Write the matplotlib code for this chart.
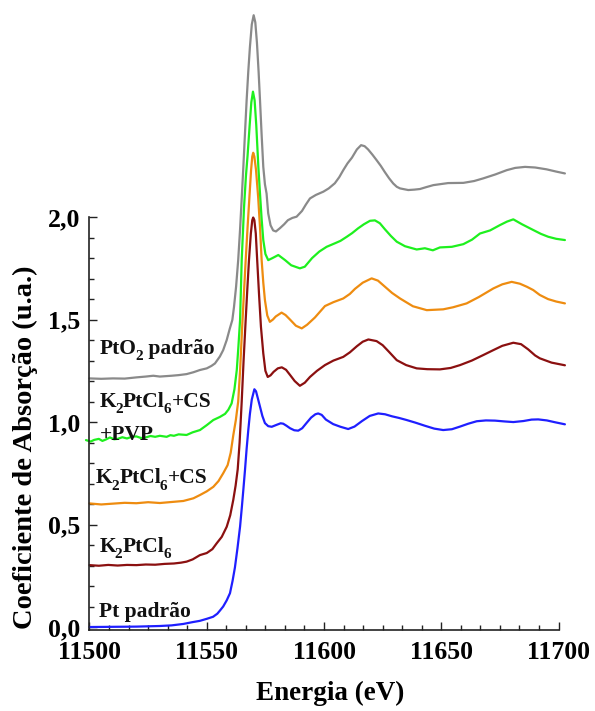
import matplotlib
matplotlib.use("Agg")
import matplotlib.pyplot as plt
from matplotlib.ticker import FixedLocator
from matplotlib.transforms import ScaledTranslation

plt.rcParams["font.family"] = ["Liberation Serif", "DejaVu Serif"]
plt.rcParams["font.weight"] = "bold"

# --- Pt L3-edge XANES spectra (vertically offset) ---
pt_E = [11500, 11510, 11520, 11530, 11535, 11540, 11544, 11547, 11550, 11552.7,
        11554.5, 11555.6, 11557.0, 11558.5, 11559.9, 11561.0, 11562.0, 11563.1,
        11564.2, 11565.0, 11565.6, 11566.3, 11567.0, 11567.7, 11568.4, 11569.2,
        11570.3, 11571.0, 11571.8, 11572.7, 11573.7, 11574.8, 11576.2, 11577.7,
        11579.9, 11581.5, 11582.6, 11584.0, 11585.5, 11587.3, 11589.0, 11590.7,
        11592.5, 11594.5, 11596.3, 11597.5, 11599.0, 11600.8, 11603.9, 11607.0,
        11610.3, 11613.0, 11616.2, 11619.5, 11623.1, 11626.0, 11629.0, 11632.0,
        11635.2, 11639.0, 11643.0, 11647.0, 11650.8, 11654.5, 11658.0, 11661.5,
        11665.1, 11669.0, 11672.9, 11677.0, 11680.7, 11685.0, 11688.5, 11691.3,
        11695.0, 11698.5, 11702.7]
pt_mu = [0.000, 0.001, 0.002, 0.005, 0.008, 0.015, 0.024, 0.030, 0.040, 0.050,
         0.065, 0.080, 0.100, 0.130, 0.165, 0.225, 0.290, 0.385,
         0.490, 0.590, 0.670, 0.766, 0.870, 0.960, 1.040, 1.110,
         1.160, 1.150, 1.115, 1.075, 1.030, 0.995, 0.980, 0.977,
         0.987, 0.994, 0.992, 0.982, 0.970, 0.960, 0.958, 0.970,
         0.995, 1.022, 1.038, 1.042, 1.035, 1.012, 0.990, 0.977,
         0.966, 0.978, 1.005, 1.030, 1.042, 1.038, 1.028, 1.020,
         1.010, 0.997, 0.982, 0.968, 0.961, 0.965, 0.978, 0.992,
         1.004, 1.008, 1.007, 1.003, 1.000, 1.005, 1.012, 1.013,
         1.008, 0.999, 0.989]

k2_E = [11500, 11504, 11508, 11512, 11516, 11520, 11524, 11528, 11532, 11536,
        11539, 11541.4, 11544, 11547.1, 11550, 11552.4, 11554.2, 11556.4, 11558.5,
        11560.0, 11561.3, 11562.3, 11563.2, 11564.0, 11564.9, 11565.7, 11566.6,
        11567.3, 11568.0, 11568.8, 11569.4, 11569.8, 11570.3, 11570.9, 11571.5,
        11572.3, 11573.1, 11574.1, 11575.0, 11576.0, 11577.2, 11578.5, 11580.3,
        11582.0, 11583.8, 11585.5, 11587.5, 11589.7, 11591.8, 11594.0, 11597.0,
        11600.4, 11604.0, 11608.2, 11611.0, 11614.0, 11616.5, 11618.9, 11622.4,
        11625.0, 11627.5, 11631.0, 11635.0, 11639.5, 11644.0, 11649.4, 11654.0,
        11658.0, 11663.0, 11667.9, 11672.0, 11676.0, 11680.7, 11684.0, 11687.0,
        11690.0, 11692.0, 11697.0, 11702.7]
k2_mu = [0.302, 0.299, 0.303, 0.300, 0.303, 0.302, 0.305, 0.304, 0.308, 0.310,
         0.314, 0.319, 0.330, 0.351, 0.361, 0.380, 0.408, 0.440, 0.489,
         0.545, 0.620, 0.690, 0.770, 0.900, 1.100, 1.300, 1.500,
         1.650, 1.790, 1.920, 1.985, 1.998, 1.985, 1.920, 1.790,
         1.620, 1.465, 1.335, 1.250, 1.220, 1.228, 1.245, 1.262,
         1.267, 1.255, 1.230, 1.200, 1.177, 1.192, 1.220, 1.250,
         1.278, 1.300, 1.318, 1.340, 1.370, 1.392, 1.403, 1.395,
         1.375, 1.345, 1.302, 1.278, 1.262, 1.258, 1.257, 1.264,
         1.278, 1.300, 1.327, 1.350, 1.372, 1.387, 1.380, 1.355,
         1.325, 1.311, 1.290, 1.277]

k2cs_E = [11500, 11505, 11510, 11515, 11520, 11525, 11530, 11535, 11540, 11544.3,
          11547.1, 11550, 11552.8, 11555, 11557.0, 11558.9, 11560.2, 11561.3,
          11562.4, 11563.4, 11564.2, 11565.1, 11565.9, 11566.6, 11567.4, 11568.2,
          11568.9, 11569.4, 11569.8, 11570.3, 11571.0, 11571.9, 11572.7, 11573.4,
          11574.1, 11574.8, 11575.8, 11576.9, 11578.2, 11579.4, 11581.9, 11583.6,
          11585.5, 11588.0, 11590.5, 11592.8, 11596.1, 11600.4, 11604.0, 11608.2,
          11611.0, 11613.2, 11616.5, 11620.3, 11623.0, 11626.0, 11629.0, 11632.4,
          11635.0, 11637.9, 11643.8, 11650.8, 11655.0, 11660.8, 11666.0, 11672.2,
          11676.0, 11680.0, 11683.5, 11686.5, 11689.2, 11692.0, 11695.5, 11699.0,
          11702.7]
k2cs_mu = [0.603, 0.598, 0.602, 0.606, 0.604, 0.609, 0.605, 0.610, 0.615, 0.628,
           0.644, 0.662, 0.684, 0.712, 0.750, 0.790, 0.850, 0.935,
           1.010, 1.100, 1.250, 1.465, 1.640, 1.790, 1.950, 2.100,
           2.230, 2.295, 2.314, 2.295, 2.230, 2.100, 1.950, 1.790,
           1.680, 1.595, 1.520, 1.489, 1.500, 1.515, 1.534, 1.522,
           1.500, 1.470, 1.457, 1.475, 1.510, 1.566, 1.585, 1.603,
           1.625, 1.650, 1.680, 1.701, 1.690, 1.660, 1.630, 1.603,
           1.585, 1.565, 1.546, 1.550, 1.560, 1.579, 1.610, 1.652,
           1.672, 1.684, 1.675, 1.660, 1.644, 1.620, 1.600, 1.588,
           1.579]

pvp_E = [11498.5, 11500.5, 11502, 11504, 11505.5, 11507, 11508.7, 11510.5, 11512,
         11514, 11516, 11518, 11520, 11522, 11524, 11526, 11528, 11530, 11532.9,
         11534.5, 11536, 11538, 11541.4, 11544, 11547.1, 11550.0, 11552.8, 11555.6,
         11557.8, 11559.2, 11560.6, 11561.8, 11562.8, 11563.5, 11564.2, 11564.9,
         11565.9, 11566.7, 11567.4, 11568.3, 11569.0, 11569.7, 11570.4, 11571.1,
         11572.0, 11572.7, 11573.4, 11574.1, 11575.0, 11576.2, 11578.0, 11580.5,
         11583.4, 11586.0, 11589.7, 11591.8, 11594.9, 11598.0, 11601.1, 11604.6,
         11607.0, 11609.7, 11612.0, 11614.5, 11617.0, 11619.6, 11621.7, 11623.8,
         11626.0, 11628.5, 11631.0, 11634.5, 11639.5, 11643.0, 11646.4, 11649.4,
         11654.5, 11659.4, 11663.1, 11666.5, 11670.8, 11675.0, 11678.0, 11680.7,
         11684.4, 11689.2, 11692.5, 11695.6, 11699.0, 11702.7]
pvp_mu = [0.912, 0.905, 0.913, 0.918, 0.908, 0.915, 0.925, 0.916, 0.918,
          0.926, 0.920, 0.928, 0.930, 0.922, 0.925, 0.932, 0.928, 0.933, 0.928,
          0.936, 0.933, 0.940, 0.937, 0.950, 0.961, 0.985, 1.010, 1.025,
          1.040, 1.060, 1.091, 1.160, 1.254, 1.370, 1.498, 1.790,
          2.050, 2.200, 2.300, 2.450, 2.560, 2.612, 2.570, 2.450,
          2.245, 2.115, 1.990, 1.888, 1.820, 1.790, 1.800, 1.815,
          1.790, 1.765, 1.750, 1.758, 1.800, 1.832, 1.855, 1.872,
          1.884, 1.904, 1.922, 1.945, 1.965, 1.982, 1.984, 1.970,
          1.940, 1.908, 1.880, 1.858, 1.842, 1.848, 1.838, 1.852,
          1.855, 1.868, 1.890, 1.920, 1.935, 1.961, 1.978, 1.989,
          1.965, 1.937, 1.918, 1.904, 1.894, 1.888]

pto2_E = [11500, 11505, 11510, 11515, 11520, 11524, 11527.2, 11530, 11535, 11538,
          11541.4, 11544.3, 11547.1, 11550.0, 11552.0, 11553.5, 11555.6, 11557.0,
          11558.5, 11559.8, 11560.9, 11561.6, 11562.5, 11563.4, 11564.2, 11564.9,
          11565.6, 11566.3, 11567.0, 11567.7, 11568.4, 11569.2, 11570.0, 11570.7,
          11571.4, 11572.1, 11572.7, 11573.4, 11574.1, 11574.8, 11575.5, 11576.2,
          11577.2, 11578.3, 11579.5, 11581.2, 11583.0, 11584.6, 11586.5, 11588.3,
          11590.6, 11592.3, 11594.0, 11596.5, 11599.7, 11602.0, 11604.6, 11606.5,
          11608.2, 11610.0, 11611.9, 11614.0, 11615.8, 11617.3, 11618.8, 11620.6,
          11622.4, 11624.2, 11625.9, 11627.7, 11629.5, 11631.0, 11632.4, 11635.9,
          11638.5, 11640.9, 11643.5, 11646.6, 11652.9, 11659.4, 11664.0, 11667.9,
          11673.0, 11677.9, 11681.5, 11685.7, 11690.0, 11694.9, 11699.0, 11702.7]
pto2_mu = [1.213, 1.211, 1.213, 1.212, 1.218, 1.222, 1.226, 1.222, 1.226, 1.229,
           1.234, 1.243, 1.254, 1.262, 1.274, 1.286, 1.320, 1.351,
           1.400, 1.455, 1.498, 1.560, 1.660, 1.790, 1.940, 2.090,
           2.245, 2.410, 2.570, 2.710, 2.830, 2.940, 2.985, 2.950,
           2.850, 2.710, 2.570, 2.400, 2.245, 2.160, 2.115, 2.018,
           1.960, 1.935, 1.930, 1.946, 1.965, 1.985, 1.996, 2.002,
           2.030, 2.062, 2.091, 2.108, 2.124, 2.140, 2.165, 2.195,
           2.229, 2.262, 2.290, 2.330, 2.351, 2.346, 2.330, 2.305,
           2.278, 2.250, 2.220, 2.190, 2.164, 2.148, 2.140, 2.132,
           2.134, 2.137, 2.146, 2.156, 2.166, 2.167, 2.176, 2.189,
           2.208, 2.229, 2.240, 2.245, 2.242, 2.233, 2.222, 2.213]

series = [
    (pt_E, pt_mu, "#1f1fff"),
    (k2_E, k2_mu, "#8b1010"),
    (k2cs_E, k2cs_mu, "#ee8c10"),
    (pvp_E, pvp_mu, "#1ef01e"),
    (pto2_E, pto2_mu, "#8a8a8a"),
]

# Sample names; "_" marks the following character as a subscript
sample_labels = ["Pt padrão", "K_2PtCl_6", "K_2PtCl_6+CS",
                 "+PVP", "K_2PtCl_6+CS", "PtO_2 padrão"]
label_x = [11504.2, 11504.2, 11502.8, 11504.5, 11504.5, 11504.5]
label_y = [0.050, 0.367, 0.701, 0.912, 1.075, 1.332]

y_ticks = [0.0, 0.5, 1.0, 1.5, 2.0]
y_tick_labels = ["0,0", "0,5", "1,0", "1,5", "2,0"]
x_ticks = [11500, 11550, 11600, 11650, 11700]

fig = plt.figure(figsize=(5.95, 7.11), dpi=100)
ax = fig.add_axes([0.1504, 0.1139, 0.8081, 0.8748])

for E, mu, col in series:
    ax.plot(E, mu, color=col, lw=1.6, clip_on=False,
            solid_joinstyle="round", solid_capstyle="round")

ax.set_xlim(11500, 11705)
ax.set_ylim(-0.0146, 3.02)

for s in ("top", "right"):
    ax.spines[s].set_visible(False)
ax.spines["left"].set_bounds(-0.0146, 2.0)
ax.spines["bottom"].set_bounds(11500, 11700)
for s in ("left", "bottom"):
    ax.spines[s].set_linewidth(1.2)
    ax.spines[s].set_color("#222222")

ax.yaxis.set_major_locator(FixedLocator(y_ticks))
ax.set_yticklabels(y_tick_labels)
ax.yaxis.set_minor_locator(FixedLocator([i / 10 for i in range(0, 21)]))
ax.xaxis.set_major_locator(FixedLocator(x_ticks))
ax.set_xticklabels([str(t) for t in x_ticks])
ax.xaxis.set_minor_locator(FixedLocator([11500 + i * 50 / 6 for i in range(0, 25)]))

ax.tick_params(which="both", direction="in", width=1.0, color="#222222",
               labelsize=18.5, top=False, right=False)
ax.tick_params(which="major", length=6)
ax.tick_params(which="minor", length=3.5)
ax.tick_params(axis="y", which="major", pad=7)
ax.tick_params(axis="x", which="major", pad=8)
for lab in ax.get_xticklabels() + ax.get_yticklabels():
    lab.set_fontweight("bold")

ax.set_xlabel("Energia (eV)", fontsize=19.5, fontweight="bold", labelpad=12)
fig.text(0.043, 0.371, "Coeficiente de Absorção (u.a.)", rotation=90,
         fontsize=20.5, fontweight="bold", ha="center", va="center")


def split_label(text):
    """Split 'K_2PtCl_6' into [(text, is_subscript), ...]."""
    parts, buf, i = [], "", 0
    while i < len(text):
        if text[i] == "_" and i + 1 < len(text):
            if buf:
                parts.append((buf, False))
                buf = ""
            parts.append((text[i + 1], True))
            i += 2
        else:
            buf += text[i]
            i += 1
    if buf:
        parts.append((buf, False))
    return parts


renderer = fig.canvas.get_renderer()
main_size = 15.5
sub_size = 11.0
sub_drop = 4.5   # points
sub_kern = -0.8  # points, tucks subscripts against the preceding letter

for txt, lx, ly in zip(sample_labels, label_x, label_y):
    dx = 0.0  # accumulated advance in points
    for piece, is_sub in split_label(txt):
        if is_sub:
            dx += sub_kern
        off = ScaledTranslation(dx / 72, (-sub_drop if is_sub else 0) / 72,
                                fig.dpi_scale_trans)
        t = ax.text(lx, ly, piece, fontsize=sub_size if is_sub else main_size,
                    fontweight="bold", ha="left", va="baseline",
                    color="#111111", transform=ax.transData + off)
        w = t.get_window_extent(renderer).width
        dx += w * 72 / fig.dpi

fig.savefig("out.png", dpi=100)
